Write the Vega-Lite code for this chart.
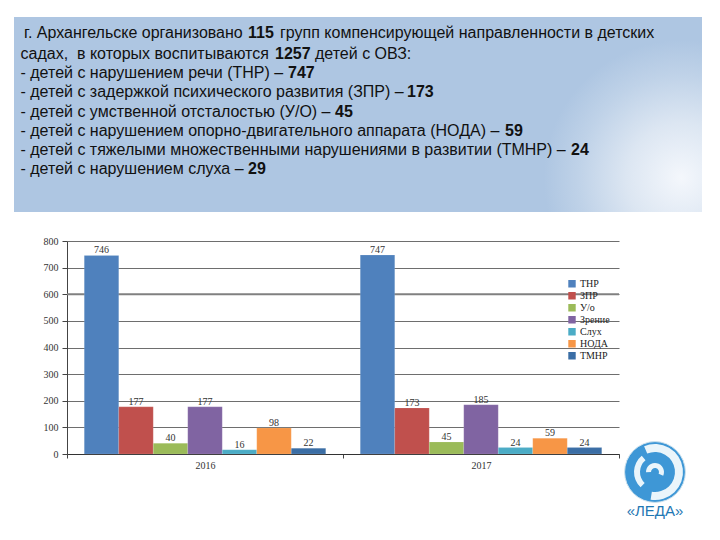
{
"$schema":"https://vega.github.io/schema/vega-lite/v6.json",
"width":552,"height":213,
"autosize":{"type":"none"},
"padding":{"left":67,"top":241,"right":101,"bottom":86},
"background":"white",
"datasets":{
"bars":[
{"year":"2016","category":"ТНР","value":746},{"year":"2016","category":"ЗПР","value":177},{"year":"2016","category":"У/о","value":40},{"year":"2016","category":"Зрение","value":177},{"year":"2016","category":"Слух","value":16},{"year":"2016","category":"НОДА","value":98},{"year":"2016","category":"ТМНР","value":22},
{"year":"2017","category":"ТНР","value":747},{"year":"2017","category":"ЗПР","value":173},{"year":"2017","category":"У/о","value":45},{"year":"2017","category":"Зрение","value":185},{"year":"2017","category":"Слух","value":24},{"year":"2017","category":"НОДА","value":59},{"year":"2017","category":"ТМНР","value":24}],
"normal":[
{"x":24,"y":33,"t":"г. Архангельске организовано"},{"x":280,"y":33,"t":"групп компенсирующей направленности в детских"},
{"x":20.5,"y":53.5,"t":"садах,\u00a0 в которых воспитываются"},{"x":315,"y":53.5,"t":"детей с ОВЗ:"},
{"x":20.5,"y":73,"t":"- детей с нарушением речи (ТНР) –"},
{"x":20.5,"y":92,"t":"- детей с задержкой психического развития (ЗПР) –"},
{"x":20.5,"y":112,"t":"- детей с умственной отсталостью (У/О) –"},
{"x":20.5,"y":131,"t":"- детей с нарушением опорно-двигательного аппарата (НОДА) –"},
{"x":20.5,"y":150,"t":"- детей с тяжелыми множественными нарушениями в развитии (ТМНР) –"},
{"x":20.5,"y":169,"t":"- детей с нарушением слуха –"}],
"bold":[
{"x":248,"y":33,"t":"115"},{"x":275,"y":53.5,"t":"1257"},{"x":288,"y":73,"t":"747"},{"x":407,"y":92,"t":"173"},{"x":335,"y":112,"t":"45"},{"x":505,"y":131,"t":"59"},{"x":571,"y":150,"t":"24"},{"x":248,"y":169,"t":"29"}],
"banner":[{"x":14,"x2":702,"y":17,"y2":212}],
"logo":[{"x":655,"y":472}],
"logoText":[{"x":655,"y":511,"t":"«ЛЕДА»"}]
},
"layer":[
{"encoding":{
 "x":{"field":"x","type":"quantitative","scale":{"domain":[0,720],"range":[-67,653],"nice":false,"zero":false},"axis":null},
 "y":{"field":"y","type":"quantitative","scale":{"domain":[0,540],"range":[-241,299],"nice":false,"zero":false},"axis":null}},
 "layer":[
 {"data":{"name":"banner"},"mark":{"type":"rect","fill":{"gradient":"radial","x1":0.97,"y1":0.592,"r1":0,"x2":0.97,"y2":0.592,"r2":0.2,"stops":[{"offset":0,"color":"#F4F7FC"},{"offset":0.4,"color":"#DCE6F2"},{"offset":0.75,"color":"#BFD2E8"},{"offset":1,"color":"#AEC6E2"}]}},
  "encoding":{"x2":{"field":"x2"},"y2":{"field":"y2"}}},
 {"data":{"name":"normal"},"mark":{"type":"text","align":"left","baseline":"middle","font":"Liberation Sans","fontSize":16,"color":"#111111"},"encoding":{"text":{"field":"t"}}},
 {"data":{"name":"bold"},"mark":{"type":"text","align":"left","baseline":"middle","font":"Liberation Sans","fontSize":16,"fontWeight":"bold","color":"#111111"},"encoding":{"text":{"field":"t"}}},
 {"data":{"name":"logo"},"mark":{"type":"point","shape":"circle","filled":true,"size":3700,"opacity":1,"fill":"#3E97D6","stroke":"#CFE3EE","strokeWidth":1}},
 {"data":{"name":"logo"},"mark":{"type":"arc","innerRadius":20,"outerRadius":28,"theta":-0.4,"theta2":3.3,"fill":"#EAF5FB"}},
 {"data":{"name":"logo"},"mark":{"type":"arc","innerRadius":15,"outerRadius":21,"theta":3.9,"theta2":5.6,"fill":"#EAF5FB"}},
 {"data":{"name":"logo"},"mark":{"type":"arc","innerRadius":4,"outerRadius":9,"theta":-1.6,"theta2":2.0,"fill":"#EAF5FB","dy":9}},
 {"data":{"name":"logoText"},"mark":{"type":"text","align":"center","baseline":"middle","font":"Liberation Sans","fontSize":15,"color":"#1F78B4"},"encoding":{"text":{"field":"t"}}}
 ]},
{"data":{"name":"bars"},
 "encoding":{
  "x":{"field":"year","type":"nominal","scale":{"paddingInner":0,"paddingOuter":0},"axis":{"title":null,"labelAngle":0,"labelFont":"Liberation Serif","labelFontSize":10,"labelColor":"#333333","labelPadding":2,"tickBand":"extent","tickSize":4,"tickColor":"#444444","domainColor":"#333333"}},
  "xOffset":{"field":"category","type":"nominal","sort":["ТНР","ЗПР","У/о","Зрение","Слух","НОДА","ТМНР"],"scale":{"paddingInner":0,"paddingOuter":0.5}},
  "y":{"field":"value","type":"quantitative","scale":{"domain":[0,800],"nice":false},"axis":{"title":null,"values":[0,100,200,300,400,500,600,700,800],"grid":true,"gridColor":"#6E6E6E","gridWidth":1,"labelFont":"Liberation Serif","labelFontSize":10,"labelColor":"#333333","labelPadding":4,"tickSize":5,"tickColor":"#444444","domainColor":"#444444"}}},
 "layer":[
 {"data":{"values":[{"mark":600}]},"mark":{"type":"rule","color":"#808080","strokeWidth":2},"encoding":{"x":null,"xOffset":null,"y":{"field":"mark","type":"quantitative"}}},
 {"mark":{"type":"bar","stroke":"#FFFFFF","strokeOpacity":0.25,"strokeWidth":0.5},
  "encoding":{"color":{"field":"category","type":"nominal","sort":["ТНР","ЗПР","У/о","Зрение","Слух","НОДА","ТМНР"],
   "scale":{"domain":["ТНР","ЗПР","У/о","Зрение","Слух","НОДА","ТМНР"],"range":["#4F81BD","#C0504D","#9BBB59","#8064A2","#4BACC6","#F79646","#3B6EA5"]},
   "legend":{"title":null,"orient":"none","legendX":500,"legendY":37,"symbolType":"square","symbolSize":55,"symbolStrokeWidth":0,"labelFont":"Liberation Serif","labelFontSize":10,"labelColor":"#222222","rowPadding":0,"labelOffset":3,"clipHeight":11.6}}}},
 {"mark":{"type":"text","dy":-5,"font":"Liberation Serif","fontSize":10,"color":"#333333"},"encoding":{"text":{"field":"value","type":"quantitative"}}}
 ]}
],
"resolve":{"scale":{"x":"independent","y":"independent"},"axis":{"x":"independent","y":"independent"}},
"config":{"view":{"stroke":null}}
}
